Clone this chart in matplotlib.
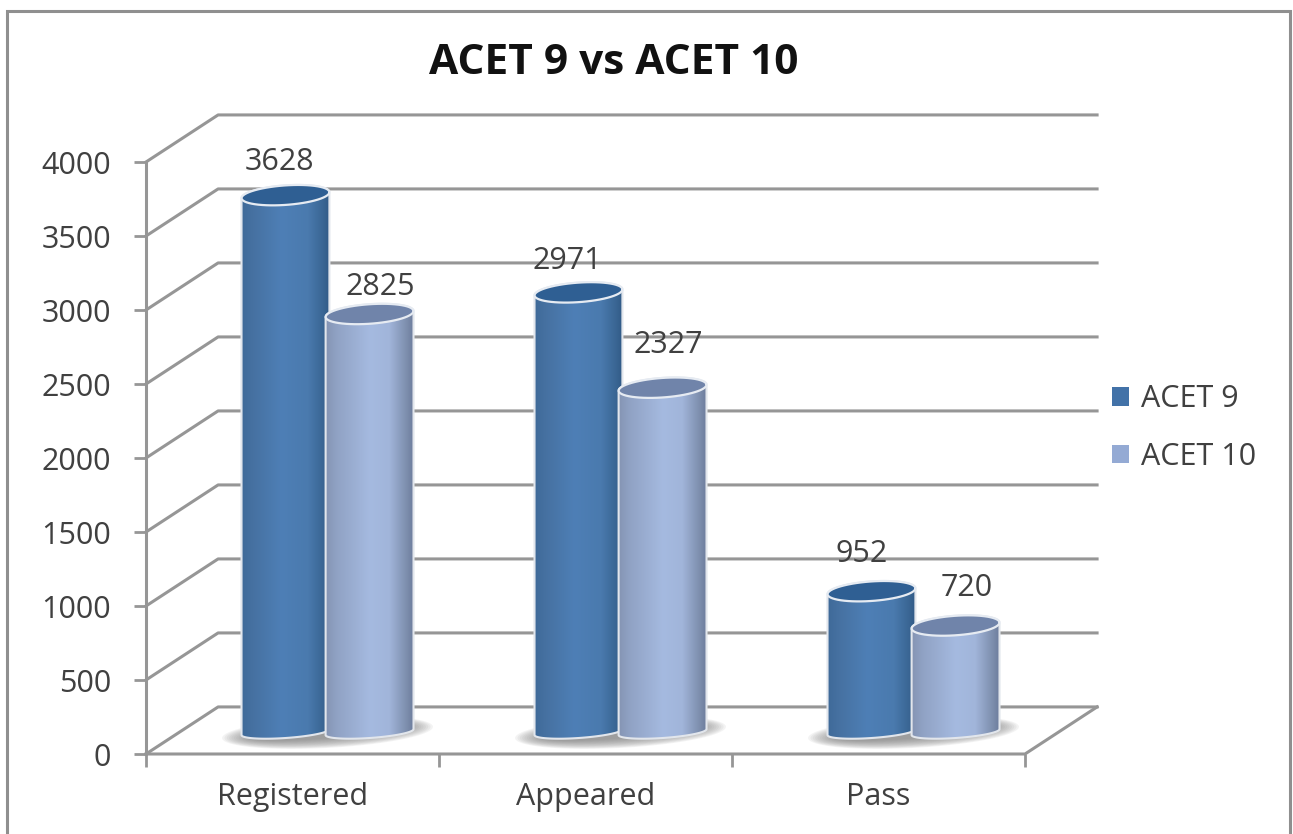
import numpy as np
import matplotlib
matplotlib.use("Agg")
import matplotlib.pyplot as plt
from matplotlib.patches import Patch, PathPatch, Rectangle
from matplotlib.path import Path

# data
categories = ["Registered", "Appeared", "Pass"]
series_names = ["ACET 9", "ACET 10"]
acet9 = [3628, 2971, 952]
acet10 = [2825, 2327, 720]
y_ticks = [0, 500, 1000, 1500, 2000, 2500, 3000, 3500, 4000]

# label nudges from the top of each cylinder, in pixels
label_nudge9 = [(-6, 33), (-11, 31), (-10, 37)]
label_nudge10 = [(11, 27), (6, 43), (11, 38)]

plt.rcParams["font.family"] = ["Open Sans", "DejaVu Sans"]
TEXT = "#404040"
GRID = "#969696"

W, H = 1293, 834
fig = plt.figure(figsize=(W / 100, H / 100), dpi=100)
ax = fig.add_axes([146 / W, (H - 754) / H, (1025 - 146) / W, (754 - 162) / H])
ax.set_xlim(0, 3)
ax.set_ylim(0, 4000)
for s in ax.spines.values():
    s.set_visible(False)
ax.patch.set_visible(False)

# fake 3d: back wall sits this far from the front plane
depth_x = 0.246
depth_y = 318
base_y = 148      # cylinders stand this far up on the floor
half_w = 0.15
top_b = 66        # ellipse half height, top face
bot_b = 40        # same for the visible base curve
tilt = 20         # right end of the ellipse is higher than the left

# frame round the whole chart
fig.add_artist(Rectangle((7 / W, -0.02), (1290 - 7) / W, (H - 11) / H + 0.02,
                         transform=fig.transFigure, fill=False,
                         edgecolor="#8f8f8f", linewidth=2.2))

# walls
for v in y_ticks:
    ax.plot([0, depth_x, 3 + depth_x], [v, v + depth_y, v + depth_y],
            color=GRID, lw=2.2, clip_on=False, zorder=1)
ax.plot([0, 0], [0, 4000], color=GRID, lw=2.2, clip_on=False, zorder=1)
ax.plot([0, 3, 3 + depth_x], [0, 0, depth_y], color=GRID, lw=2.2, clip_on=False, zorder=1)

ax.set_yticks(y_ticks)
ax.set_xticks([0, 1, 2, 3])
ax.set_xticklabels([])
ax.set_xticks([0.5, 1.5, 2.5], minor=True)
ax.set_xticklabels(categories, minor=True, fontsize=22, color=TEXT)
ax.tick_params(axis="x", which="major", length=9, width=2, color=GRID)
ax.tick_params(axis="x", which="minor", length=0, pad=20)
ax.tick_params(axis="y", length=9, width=2, color=GRID, labelsize=22,
               labelcolor=TEXT, pad=16)


def ellipse_pts(cx, v, start, end, b=top_b, n=60):
    t = np.linspace(start, end, n)
    return cx + half_w * np.cos(t), v + b * np.sin(t) + tilt * np.cos(t)


def cylinder(cx, value, stops, top_color, z):
    bottom = base_y
    top = base_y + value
    # body outline: over the top back edge, then round the front of the base
    x1, y1 = ellipse_pts(cx, top, np.pi, 0)
    x2, y2 = ellipse_pts(cx, bottom, 0, -np.pi, b=bot_b)
    verts = np.r_[np.c_[x1, y1], np.c_[x2, y2], [[x1[0], y1[0]]]]
    body = Path(verts)
    clip = PathPatch(body, transform=ax.transData, facecolor="none",
                     edgecolor="#e2e6ec", lw=1.5, zorder=z + 0.2)
    ax.add_patch(clip)
    pos = np.linspace(0, 1, 200)
    grad = np.stack([np.interp(pos, stops[0], [c[i] for c in stops[1]]) for i in range(3)], axis=-1)
    img = ax.imshow(grad[None, :, :], extent=[cx - half_w, cx + half_w, 0, 4000],
                    aspect="auto", zorder=z, interpolation="bilinear")
    img.set_clip_path(clip)
    # top face
    xt, yt = ellipse_pts(cx, top, 0, 2 * np.pi)
    ax.add_patch(PathPatch(Path(np.c_[xt, yt]), transform=ax.transData, facecolor=top_color,
                           edgecolor="#e6ebf2", lw=1.6, zorder=z + 0.3))


def rgb(h):
    return matplotlib.colors.to_rgb(h)


stops9 = ([0, 0.12, 0.45, 0.75, 0.92, 1],
          [rgb(c) for c in ("#3f6a99", "#4671a1", "#4e7fb6", "#4a7aae", "#3a6694", "#315a86")])
stops10 = ([0, 0.12, 0.5, 0.72, 0.92, 1],
           [rgb(c) for c in ("#8595b4", "#90a2c4", "#a5bae0", "#a1b5da", "#7d8ead", "#6c7c9c")])

offset9 = -0.024
offset10 = 0.263

# soft shadows on the floor, a stack of faint ellipses
for i in range(len(categories)):
    cx = i + 0.5 + (offset9 + offset10) / 2
    for k in range(14):
        t = np.linspace(0, 2 * np.pi, 80)
        ex = cx + (0.36 - 0.008 * k) * np.cos(t)
        ey = base_y - 2 + (105 - 5 * k) * np.sin(t) + 38 * np.cos(t)
        ax.fill(ex, ey, color="#808080", alpha=0.09, lw=0, zorder=2)

for i in range(len(categories)):
    cylinder(i + 0.5 + offset9, acet9[i], stops9, "#2f5f93", 3 + i)
    cylinder(i + 0.5 + offset10, acet10[i], stops10, "#7084aa", 3.5 + i)

    top9 = acet9[i] + base_y
    top10 = acet10[i] + base_y
    ax.annotate(str(acet9[i]), (i + 0.5 + offset9, top9), xytext=label_nudge9[i],
                textcoords="offset pixels", ha="center", va="center",
                fontsize=22, color=TEXT, zorder=10, annotation_clip=False)
    ax.annotate(str(acet10[i]), (i + 0.5 + offset10, top10), xytext=label_nudge10[i],
                textcoords="offset pixels", ha="center", va="center",
                fontsize=22, color=TEXT, zorder=10, annotation_clip=False)

ax.set_xlim(0, 3)
ax.set_ylim(0, 4000)

fig.text(614 / W, 1 - 63 / H, "ACET 9 vs ACET 10", ha="center", va="center",
         fontsize=30.5, fontweight="bold", color="#111111")

handles = [Patch(facecolor="#4272a8", label=series_names[0]),
           Patch(facecolor="#94aad4", label=series_names[1])]
fig.legend(handles=handles, loc="center left", bbox_to_anchor=(1112 / W, 1 - 428 / H),
           frameon=False, fontsize=22, handlelength=0.56, handleheight=0.56,
           handletextpad=0.39, labelspacing=0.9, labelcolor=TEXT, borderpad=0, borderaxespad=0)

fig.savefig("out.png", dpi=100)
